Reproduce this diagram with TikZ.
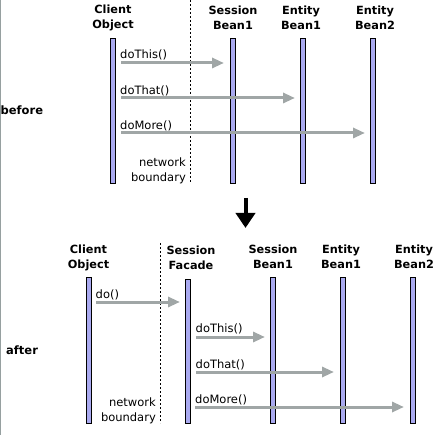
\documentclass[tikz,border=0pt]{standalone}
\usepackage{fontspec}
\setmainfont{DejaVu Sans}
\usetikzlibrary{arrows.meta}
\definecolor{lifefill}{RGB}{170,170,240}
\definecolor{msggray}{RGB}{160,166,166}
\definecolor{framegray}{RGB}{150,160,160}
\tikzset{
  lifeline/.style={draw=black, line width=1pt, fill=lifefill, minimum width=5pt, inner sep=0pt, anchor=north},
  hdr/.style={font=\fontsize{11.3}{15}\selectfont\bfseries, align=center, inner sep=0pt},
  msg/.style={draw=msggray, line width=3pt, -{Triangle[length=12pt,width=10pt]}},
  msglabel/.style={font=\fontsize{11.5}{13}\selectfont, anchor=west, inner sep=0pt},
  side/.style={font=\fontsize{11.5}{14}\selectfont\bfseries, anchor=west, inner sep=0pt},
  netlbl/.style={font=\fontsize{11.5}{15}\selectfont, align=right, anchor=east, inner sep=0pt},
  boundary/.style={draw=black, line width=1pt, dash pattern=on 2pt off 2pt},
}
\begin{document}
\begin{tikzpicture}[x=1pt,y=-1pt]
\useasboundingbox (0,0) rectangle (441,435);
\draw[framegray, line width=1.2pt] (0.6,0) -- (0.6,435);
% ---------- before ----------
\node[hdr] (h1) at (113,17.5) {Client\\Object};
\node[hdr] (h2) at (233,17.5) {Session\\Bean1};
\node[hdr] (h3) at (301,17.5) {Entity\\Bean1};
\node[hdr] (h4) at (375,17.5) {Entity\\Bean2};
\node[lifeline, minimum height=145pt] (c1) at (113,38) {};
\node[lifeline, minimum height=145pt] (s1) at (232.5,38) {};
\node[lifeline, minimum height=145pt] (e1) at (303,38) {};
\node[lifeline, minimum height=145pt] (e2) at (373,38) {};
\coordinate (nb1t) at (190,0);
\coordinate (nb1b) at (190,183);
\draw[boundary] (nb1t) -- (nb1b);
\coordinate (a1s) at (121,63); \coordinate (a1e) at (224,63);
\coordinate (a2s) at (121,98); \coordinate (a2e) at (295,98);
\coordinate (a3s) at (121,133); \coordinate (a3e) at (365,133);
\draw[msg] (a1s) -- (a1e);
\draw[msg] (a2s) -- (a2e);
\draw[msg] (a3s) -- (a3e);
\node[msglabel] (l1) at (120,55) {doThis()};
\node[msglabel] (l2) at (120,90.5) {doThat()};
\node[msglabel] (l3) at (120,126) {doMore()};
\node[side] (before) at (0.5,110) {before};
\node[netlbl] (nl1) at (186,170.5) {network\\boundary};
% ---------- transition arrow ----------
\coordinate (dt) at (245.5,198);
\coordinate (db) at (245.5,228);
\draw[black, line width=4pt, -{Triangle[length=15pt,width=19pt]}] (dt) -- (db);
% ---------- after ----------
\node[hdr] (g1) at (88.5,257.5) {Client\\Object};
\node[hdr] (g2) at (191,257.5) {Session\\Facade};
\node[hdr] (g3) at (273,256.5) {Session\\Bean1};
\node[hdr] (g4) at (341,256.5) {Entity\\Bean1};
\node[hdr] (g5) at (414,256.5) {Entity\\Bean2};
\node[lifeline, minimum height=146pt] (c2) at (88.5,277) {};
\node[lifeline, minimum height=144pt] (f2) at (188,279) {};
\node[lifeline, minimum height=146pt] (s2) at (272.5,277) {};
\node[lifeline, minimum height=146pt] (e3) at (343,277) {};
\node[lifeline, minimum height=146pt] (e4) at (413,277) {};
\coordinate (nb2t) at (160,243);
\coordinate (nb2b) at (160,423);
\draw[boundary] (nb2t) -- (nb2b);
\coordinate (b0s) at (96,302); \coordinate (b0e) at (180,302);
\coordinate (b1s) at (196,337); \coordinate (b1e) at (265,337);
\coordinate (b2s) at (196,372); \coordinate (b2e) at (334,372);
\coordinate (b3s) at (195,407); \coordinate (b3e) at (404,407);
\draw[msg] (b0s) -- (b0e);
\draw[msg] (b1s) -- (b1e);
\draw[msg] (b2s) -- (b2e);
\draw[msg] (b3s) -- (b3e);
\node[msglabel] (m0) at (95.5,295) {do()};
\node[msglabel] (m1) at (195.5,329) {doThis()};
\node[msglabel] (m2) at (195.5,364.5) {doThat()};
\node[msglabel] (m3) at (195,400) {doMore()};
\node[side] (after) at (6,350) {after};
\node[netlbl] (nl2) at (156,411) {network\\boundary};
\end{tikzpicture}
\end{document}
